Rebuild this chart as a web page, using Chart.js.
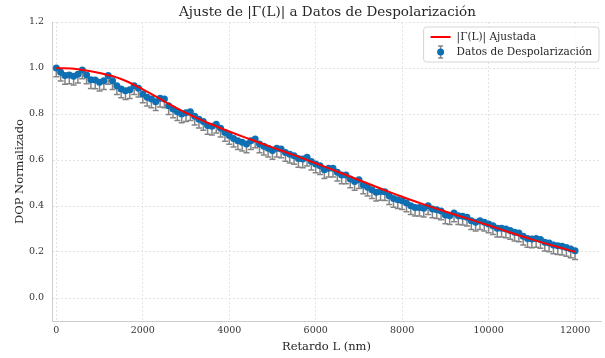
<!DOCTYPE html>
<html>
<head>
<meta charset="utf-8">
<script src="https://cdn.jsdelivr.net/npm/chart.js@4.4.1/dist/chart.umd.min.js"></script>
<style>
  html, body { margin: 0; padding: 0; background: #fff; }
  #wrap { width: 605px; height: 358px; }
</style>
</head>
<body>
<div id="wrap"><canvas id="dopChart"></canvas></div>
<script>
// retardo L (nm) de cada medida
const retardos = [
  0, 100, 200, 300, 400, 500, 600, 700, 800, 900,
  1000, 1100, 1200, 1300, 1400, 1500, 1600, 1700, 1800, 1900,
  2000, 2100, 2200, 2300, 2400, 2500, 2600, 2700, 2800, 2900,
  3000, 3100, 3200, 3300, 3400, 3500, 3600, 3700, 3800, 3900,
  4000, 4100, 4200, 4300, 4400, 4500, 4600, 4700, 4800, 4900,
  5000, 5100, 5200, 5300, 5400, 5500, 5600, 5700, 5800, 5900,
  6000, 6100, 6200, 6300, 6400, 6500, 6600, 6700, 6800, 6900,
  7000, 7100, 7200, 7300, 7400, 7500, 7600, 7700, 7800, 7900,
  8000, 8100, 8200, 8300, 8400, 8500, 8600, 8700, 8800, 8900,
  9000, 9100, 9200, 9300, 9400, 9500, 9600, 9700, 9800, 9900,
  10000, 10100, 10200, 10300, 10400, 10500, 10600, 10700, 10800, 10900,
  11000, 11100, 11200, 11300, 11400, 11500, 11600, 11700, 11800, 11900,
  12000
];
// DOP normalizado medido
const dopMedido = [
  1.000, 0.981, 0.967, 0.970, 0.964, 0.973, 0.991, 0.970, 0.949, 0.948,
  0.938, 0.945, 0.967, 0.945, 0.923, 0.909, 0.901, 0.905, 0.923, 0.912,
  0.887, 0.873, 0.865, 0.853, 0.868, 0.865, 0.836, 0.822, 0.810, 0.800,
  0.805, 0.810, 0.790, 0.777, 0.767, 0.750, 0.747, 0.755, 0.738, 0.720,
  0.706, 0.694, 0.684, 0.677, 0.670, 0.684, 0.691, 0.670, 0.660, 0.651,
  0.641, 0.651, 0.648, 0.633, 0.625, 0.619, 0.607, 0.604, 0.612, 0.594,
  0.583, 0.575, 0.558, 0.564, 0.564, 0.547, 0.535, 0.535, 0.517, 0.506,
  0.514, 0.491, 0.481, 0.471, 0.460, 0.463, 0.462, 0.445, 0.433, 0.427,
  0.423, 0.413, 0.401, 0.394, 0.394, 0.390, 0.401, 0.387, 0.384, 0.378,
  0.361, 0.358, 0.370, 0.358, 0.355, 0.351, 0.336, 0.329, 0.336, 0.329,
  0.322, 0.314, 0.303, 0.303, 0.300, 0.293, 0.286, 0.283, 0.268, 0.259,
  0.257, 0.259, 0.254, 0.242, 0.239, 0.230, 0.227, 0.225, 0.220, 0.213,
  0.205
];
const errorInferior = 0.038;

// curva |Γ(L)| ajustada
const retardosAjuste = [0, 500, 1000, 1500, 2000, 2500, 3000, 3500, 4000, 4500, 5000, 5500,
  6000, 6500, 7000, 7500, 8000, 8500, 9000, 9500, 10000, 10500, 11000, 11500, 12000];
const gammaAjuste = [1.000, 0.995, 0.978, 0.952, 0.907, 0.855, 0.805, 0.762, 0.724, 0.689, 0.655, 0.621,
  0.586, 0.550, 0.513, 0.476, 0.440, 0.407, 0.376, 0.346, 0.316, 0.285, 0.255, 0.227, 0.201];

const xTicks = [0, 2000, 4000, 6000, 8000, 10000, 12000];
const yTicks = [0.0, 0.2, 0.4, 0.6, 0.8, 1.0, 1.2];

const titulo = 'Ajuste de |Γ(L)| a Datos de Despolarización';
const etiquetaAjuste = '|Γ(L)| Ajustada';
const etiquetaDatos = 'Datos de Despolarización';

const SERIF = "'DejaVu Serif', serif";
const AZUL = '#0e6fb3';
const GRIS = '#858585';

// barras de error (solo hacia abajo, como en la figura)
const errorBars = {
  id: 'errorBars',
  beforeDatasetsDraw(chart) {
    const meta = chart.getDatasetMeta(1);
    const ys = chart.scales.y;
    const ctx = chart.ctx;
    ctx.save();
    ctx.strokeStyle = GRIS;
    ctx.lineWidth = 1.5;
    meta.data.forEach((pt, i) => {
      const x = pt.x;
      const y0 = ys.getPixelForValue(dopMedido[i]);
      const y1 = ys.getPixelForValue(dopMedido[i] - errorInferior);
      ctx.beginPath();
      ctx.moveTo(x, y0);
      ctx.lineTo(x, y1);
      ctx.moveTo(x - 3, y1);
      ctx.lineTo(x + 3, y1);
      ctx.stroke();
    });
    ctx.restore();
  }
};

// título y leyenda dibujados al final
const extras = {
  id: 'extras',
  afterDraw(chart) {
    const ctx = chart.ctx;
    const area = chart.chartArea;
    ctx.save();
    ctx.fillStyle = '#262626';
    ctx.font = '13.5px ' + SERIF;
    ctx.textAlign = 'center';
    ctx.textBaseline = 'middle';
    ctx.fillText(titulo, (area.left + area.right) / 2 + 1, 12);

    ctx.font = '10.5px ' + SERIF;
    const w = Math.max(ctx.measureText(etiquetaAjuste).width, ctx.measureText(etiquetaDatos).width);
    const bw = w + 40, bh = 35;
    const bx = area.right - 2 - bw, by = area.top + 5;
    ctx.beginPath();
    ctx.roundRect(bx, by, bw, bh, 3);
    ctx.fillStyle = 'rgba(255,255,255,0.85)';
    ctx.fill();
    ctx.strokeStyle = '#d6d6d6';
    ctx.lineWidth = 1;
    ctx.stroke();

    const r1 = by + 10, r2 = by + 25;
    ctx.strokeStyle = 'red';
    ctx.lineWidth = 2;
    ctx.beginPath();
    ctx.moveTo(bx + 7, r1);
    ctx.lineTo(bx + 27, r1);
    ctx.stroke();

    ctx.strokeStyle = GRIS;
    ctx.lineWidth = 1.5;
    ctx.beginPath();
    ctx.moveTo(bx + 17, r2 - 6); ctx.lineTo(bx + 17, r2 + 6);
    ctx.moveTo(bx + 14.5, r2 - 6); ctx.lineTo(bx + 19.5, r2 - 6);
    ctx.moveTo(bx + 14.5, r2 + 6); ctx.lineTo(bx + 19.5, r2 + 6);
    ctx.stroke();
    ctx.fillStyle = AZUL;
    ctx.beginPath();
    ctx.arc(bx + 17, r2, 3.5, 0, Math.PI * 2);
    ctx.fill();

    ctx.fillStyle = '#262626';
    ctx.textAlign = 'left';
    ctx.fillText(etiquetaAjuste, bx + 33, r1);
    ctx.fillText(etiquetaDatos, bx + 33, r2);
    ctx.restore();
  }
};

const ctx = document.getElementById('dopChart');

new Chart(ctx, {
  type: 'scatter',
  data: {
    datasets: [
      {
        type: 'line',
        label: etiquetaAjuste,
        data: retardosAjuste.map((l, i) => ({ x: l, y: gammaAjuste[i] })),
        borderColor: 'red',
        borderWidth: 2,
        pointRadius: 0,
        tension: 0.4,
        fill: false
      },
      {
        label: etiquetaDatos,
        data: retardos.map((l, i) => ({ x: l, y: dopMedido[i] })),
        backgroundColor: AZUL,
        borderColor: AZUL,
        pointRadius: 3.5,
        borderWidth: 0
      }
    ]
  },
  options: {
    responsive: true,
    maintainAspectRatio: false,
    animation: false,
    layout: { padding: { top: 22, right: 1, left: 0, bottom: 0 } },
    plugins: {
      legend: { display: false },
      tooltip: { enabled: false }
    },
    scales: {
      x: {
        type: 'linear',
        min: -100,
        max: 12600,
        afterBuildTicks: (s) => { s.ticks = xTicks.map(v => ({ value: v })); },
        afterFit: (s) => { s.height = 37; },
        grid: { color: '#e4e4e4', drawTicks: false },
        border: { display: true, color: '#cccccc', width: 1, dash: [2, 2] },
        ticks: { font: { family: SERIF, size: 9.5 }, color: '#333', padding: 4, maxRotation: 0, callback: (v) => String(v) },
        title: { display: true, text: 'Retardo L (nm)', font: { family: SERIF, size: 11.5 }, color: '#262626', padding: { top: 0, bottom: 4 } }
      },
      y: {
        type: 'linear',
        min: -0.1,
        max: 1.2,
        afterBuildTicks: (s) => { s.ticks = yTicks.map(v => ({ value: v })); },
        afterFit: (s) => { s.width = 52; },
        grid: { color: '#e4e4e4', drawTicks: false },
        border: { display: true, color: '#cccccc', width: 1, dash: [2, 2] },
        ticks: { font: { family: SERIF, size: 9.5 }, color: '#333', padding: 8, callback: (v) => v.toFixed(1) },
        title: { display: true, text: 'DOP Normalizado', font: { family: SERIF, size: 11.5 }, color: '#262626', padding: { top: 13, bottom: 0 } }
      }
    }
  },
  plugins: [errorBars, extras]
});
</script>
</body>
</html>
